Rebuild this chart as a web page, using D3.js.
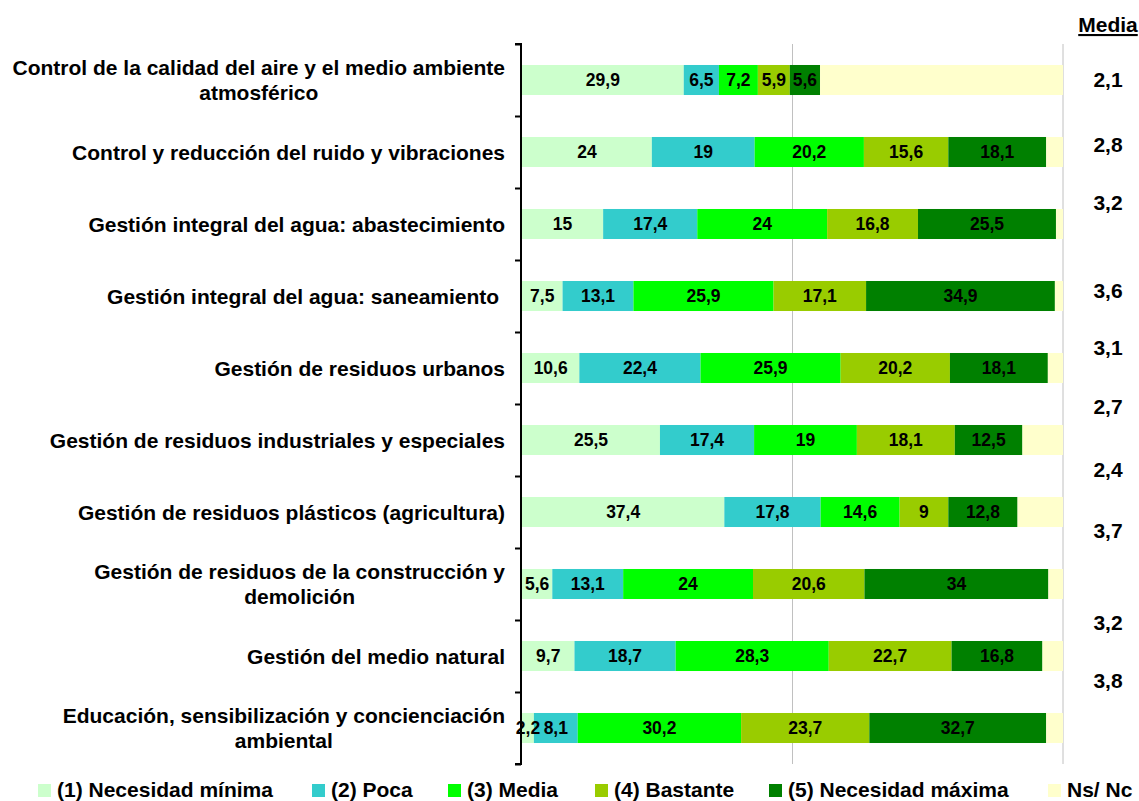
<!DOCTYPE html>
<html>
<head>
<meta charset="utf-8">
<script src="https://cdn.jsdelivr.net/npm/d3@7"></script>
<style>
  html, body { margin: 0; padding: 0; background: #fff; }
  svg { display: block; font-family: "Liberation Sans", Arial, sans-serif; }
</style>
</head>
<body>
<svg id="chart" width="1139" height="801"></svg>
<script>
// ---- data ----
const categories = [
  "Control de la calidad del aire y el medio ambiente|atmosférico",
  "Control y reducción del ruido y vibraciones",
  "Gestión integral del agua: abastecimiento",
  "Gestión integral del agua: saneamiento ",
  "Gestión de residuos urbanos",
  "Gestión de residuos industriales y especiales",
  "Gestión de residuos plásticos (agricultura)",
  "Gestión de residuos de la construcción y|demolición",
  "Gestión del medio natural",
  "Educación, sensibilización y concienciación|ambiental"
];
const seriesNames = ["(1) Necesidad mínima", "(2) Poca", "(3) Media", "(4) Bastante", "(5) Necesidad máxima", "Ns/ Nc"];
const necesidadMinima = [29.9, 24, 15, 7.5, 10.6, 25.5, 37.4, 5.6, 9.7, 2.2];
const poca            = [6.5, 19, 17.4, 13.1, 22.4, 17.4, 17.8, 13.1, 18.7, 8.1];
const mediaSerie      = [7.2, 20.2, 24, 25.9, 25.9, 19, 14.6, 24, 28.3, 30.2];
const bastante        = [5.9, 15.6, 16.8, 17.1, 20.2, 18.1, 9, 20.6, 22.7, 23.7];
const necesidadMaxima = [5.6, 18.1, 25.5, 34.9, 18.1, 12.5, 12.8, 34, 16.8, 32.7];
const nsNc            = [44.9, 3.1, 1.3, 1.5, 2.8, 7.5, 8.4, 2.7, 3.8, 3.1];
const mediaValues     = ["2,1", "2,8", "3,2", "3,6", "3,1", "2,7", "2,4", "3,7", "3,2", "3,8"];
const gridTicks = [50, 100];

// ---- styles / layout ----
const colors = ["#CCFFCC", "#33CCCC", "#00FF00", "#99CC00", "#008000", "#FFFFCC"];
const seriesValues = [necesidadMinima, poca, mediaSerie, bastante, necesidadMaxima, nsNc];
const showLabel = [true, true, true, true, true, false];
const mediaBaselines = [87, 152, 210, 298, 355, 414, 477, 538, 630, 688];
const legendX = [38, 312, 448, 595, 769, 1048];

const svg = d3.select("#chart");
svg.append("rect").attr("width", 1139).attr("height", 801).attr("fill", "#fff");

const x = d3.scaleLinear().domain([0, 100]).range([522, 1063]);
const y = d3.scaleBand().domain(d3.range(categories.length)).range([44, 764])
  .paddingInner(0.583).paddingOuter(0.2915);

// rows of stacked data
const rows = categories.map((c, i) => {
  const r = { idx: i };
  seriesNames.forEach((s, k) => r[k] = seriesValues[k][i]);
  return r;
});
const stack = d3.stack().keys(d3.range(seriesNames.length))(rows);

// gridlines
svg.append("g").selectAll("line").data(gridTicks).join("line")
  .attr("x1", d => x(d)).attr("x2", d => x(d))
  .attr("y1", 44).attr("y2", 764)
  .attr("stroke", "#c0c0c0").attr("stroke-width", 1);

// bars
const layers = svg.append("g").selectAll("g").data(stack).join("g")
  .attr("fill", (d, k) => colors[k]);
layers.selectAll("rect").data(d => d).join("rect")
  .attr("x", d => x(d[0]))
  .attr("width", d => x(d[1]) - x(d[0]))
  .attr("y", d => y(d.data.idx))
  .attr("height", y.bandwidth());

// bar labels
const lab = svg.append("g").attr("font-size", 17.5).attr("font-weight", "bold")
  .attr("text-anchor", "middle").attr("fill", "#000");
stack.forEach((layer, k) => {
  if (!showLabel[k]) return;
  lab.selectAll(null).data(layer).join("text")
    .attr("x", d => (x(d[0]) + x(d[1])) / 2)
    .attr("y", d => y(d.data.idx) + y.bandwidth() / 2 + 6.3)
    .text(d => String(seriesValues[k][d.data.idx]).replace(".", ","));
});

// axis
const axis = d3.axisLeft(d3.scaleLinear().domain([0, 10]).range([44, 764]))
  .ticks(10).tickSize(6).tickFormat("");
const ag = svg.append("g").attr("transform", "translate(521,0)").call(axis);
ag.select(".domain").attr("stroke", "#000").attr("stroke-width", 2).attr("d", "M-6,44H0V764H-6");
ag.selectAll(".tick line").attr("stroke", "#000").attr("stroke-width", 2);

// category labels
const cg = svg.append("g").attr("font-size", 21).attr("font-weight", "bold").attr("fill", "#000");
categories.forEach((c, i) => {
  const lines = c.split("|");
  const cy = y(i) + y.bandwidth() / 2;
  const lh = 25;
  const texts = lines.map((ln, j) => cg.append("text")
    .style("white-space", "pre")
    .attr("y", cy - (lines.length - 1) * lh / 2 + j * lh + 7.5)
    .text(ln));
  const widths = texts.map(t => t.node().getComputedTextLength());
  const maxW = d3.max(widths);
  const right = 505;
  if (lines.length === 1) {
    texts[0].attr("x", right).attr("text-anchor", "end");
  } else {
    texts.forEach(t => t.attr("x", right - maxW / 2).attr("text-anchor", "middle"));
  }
});

// media column
svg.append("text").attr("x", 1108).attr("y", 32).attr("text-anchor", "middle")
  .attr("font-size", 21).attr("font-weight", "bold").attr("text-decoration", "underline")
  .text("Media");
svg.append("g").selectAll("text").data(mediaValues).join("text")
  .attr("x", 1108).attr("y", (d, i) => mediaBaselines[i])
  .attr("text-anchor", "middle").attr("font-size", 21).attr("font-weight", "bold")
  .text(d => d);

// legend
const lg = svg.append("g").selectAll("g").data(seriesNames).join("g")
  .attr("transform", (d, i) => `translate(${legendX[i]},784)`);
lg.append("rect").attr("width", 13).attr("height", 13).attr("fill", (d, i) => colors[i]);
lg.append("text").attr("x", 19).attr("y", 13).attr("font-size", 21).attr("font-weight", "bold")
  .text(d => d);
</script>
</body>
</html>
